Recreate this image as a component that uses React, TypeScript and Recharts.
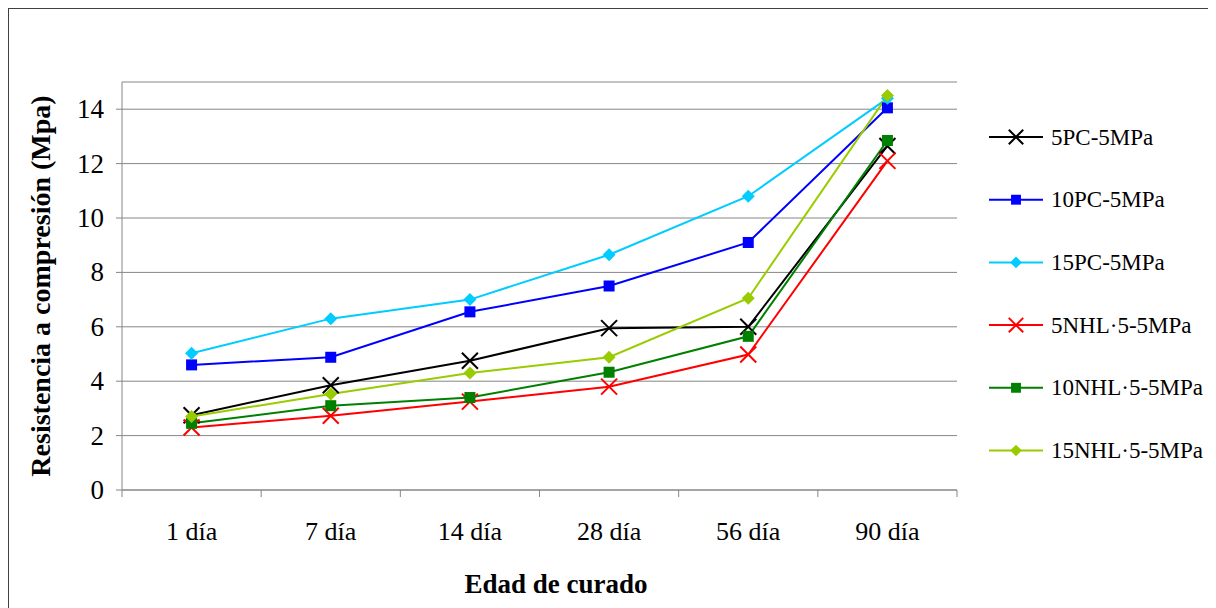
import React from 'react';
import { LineChart, Line, XAxis, YAxis, CartesianGrid, Legend, Label } from 'recharts';

// curing ages (x categories)
const dias = ['1 día', '7 día', '14 día', '28 día', '56 día', '90 día'];

// compressive strength, MPa
const pc5 = [2.75, 3.85, 4.75, 5.95, 6.0, 12.65];
const pc10 = [4.6, 4.88, 6.55, 7.5, 9.1, 14.05];
const pc15 = [5.03, 6.3, 7.0, 8.65, 10.8, 14.4];
const nhl5 = [2.3, 2.73, 3.25, 3.8, 4.98, 12.1];
const nhl10 = [2.45, 3.1, 3.4, 4.33, 5.65, 12.85];
const nhl15 = [2.7, 3.53, 4.3, 4.88, 7.05, 14.5];

const yTicks = [0, 2, 4, 6, 8, 10, 12, 14];

type Marker = 'x' | 'square' | 'diamond';

const series: { key: string; name: string; values: number[]; color: string; marker: Marker }[] = [
	{ key: 'pc5', name: '5PC-5MPa', values: pc5, color: '#000000', marker: 'x' },
	{ key: 'pc10', name: '10PC-5MPa', values: pc10, color: '#0000FF', marker: 'square' },
	{ key: 'pc15', name: '15PC-5MPa', values: pc15, color: '#00CCFF', marker: 'diamond' },
	{ key: 'nhl5', name: '5NHL·5-5MPa', values: nhl5, color: '#FF0000', marker: 'x' },
	{ key: 'nhl10', name: '10NHL·5-5MPa', values: nhl10, color: '#008000', marker: 'square' },
	{ key: 'nhl15', name: '15NHL·5-5MPa', values: nhl15, color: '#99CC00', marker: 'diamond' },
];

// each category sits in the middle of its slot, ticks mark the slot edges
const chartData = dias.map((dia, i) => {
	const row: Record<string, number | string> = { pos: i + 0.5, dia };
	series.forEach((s) => {
		row[s.key] = s.values[i];
	});
	return row;
});

const FONT = '"Liberation Serif", "Times New Roman", serif';
const AXIS = '#868686';
const W = 1207;
const H = 599;
const PLOT_LEFT = 113;
const PLOT_RIGHT = 948;
const PLOT_TOP = 73;
const PLOT_BOTTOM = 481;
const HALF_SLOT = (PLOT_RIGHT - PLOT_LEFT) / dias.length / 2;

const drawMarker = (marker: Marker, color: string, cx: number, cy: number, size = 1) => {
	if (marker === 'x') {
		const r = 8 * size;
		return (
			<g>
				<line x1={cx - r} y1={cy - r} x2={cx + r} y2={cy + r} stroke={color} strokeWidth={2} />
				<line x1={cx - r} y1={cy + r} x2={cx + r} y2={cy - r} stroke={color} strokeWidth={2} />
			</g>
		);
	}
	if (marker === 'square') {
		const r = 5.5 * size;
		return <rect x={cx - r} y={cy - r} width={r * 2} height={r * 2} fill={color} />;
	}
	const r = 6.5 * size;
	return <polygon points={`${cx},${cy - r} ${cx + r},${cy} ${cx},${cy + r} ${cx - r},${cy}`} fill={color} />;
};

const makeDot = (marker: Marker, color: string) => (props: any) => {
	const { cx, cy, index } = props;
	if (cx == null || cy == null) return <g key={`d-${index}`} />;
	return <g key={`d-${index}`}>{drawMarker(marker, color, cx, cy)}</g>;
};

const CategoryTick = (props: any) => {
	const { x, y, payload } = props;
	const label = dias[payload.value];
	if (!label) return <g />;
	return (
		<text x={x + HALF_SLOT} y={y + 32} textAnchor='middle' dominantBaseline='central' fontFamily={FONT} fontSize={26} fill='#000'>
			{label}
		</text>
	);
};

const ValueTick = (props: any) => {
	const { x, y, payload } = props;
	return (
		<text x={x} y={y} textAnchor='end' dominantBaseline='central' fontFamily={FONT} fontSize={27} fill='#000'>
			{payload.value}
		</text>
	);
};

const LegendBox = () => (
	<svg width={230} height={380}>
		{series.map((s, i) => {
			const cy = 31 + i * 62.7;
			return (
				<g key={s.key}>
					<line x1={0} y1={cy} x2={54} y2={cy} stroke={s.color} strokeWidth={2} />
					{drawMarker(s.marker, s.color, 27, cy, 0.9)}
					<text x={62} y={cy} dominantBaseline='central' fontFamily={FONT} fontSize={23} fill='#000'>
						{s.name}
					</text>
				</g>
			);
		})}
	</svg>
);

const YTitle = (props: any) => {
	const { viewBox } = props;
	const cx = 31;
	const cy = viewBox.y + viewBox.height / 2;
	return (
		<text x={cx} y={cy} transform={`rotate(-90 ${cx} ${cy})`} textAnchor='middle' dominantBaseline='central' fontFamily={FONT} fontWeight='bold' fontSize={28} fill='#000'>
			Resistencia a compresión (Mpa)
		</text>
	);
};

const XTitle = () => (
	<text x={547} y={575} textAnchor='middle' dominantBaseline='central' fontFamily={FONT} fontWeight='bold' fontSize={27} fill='#000'>
		Edad de curado
	</text>
);

const App = () => {
	return (
		<div
			style={{
				position: 'relative',
				margin: '-1px 0 0 -1px',
				width: W,
				height: H,
				borderTop: '2px solid #404040',
				borderLeft: '2px solid #404040',
				background: '#fff',
			}}
		>
			<LineChart
				width={W}
				height={H}
				data={chartData}
				margin={{ top: PLOT_TOP, right: W - PLOT_RIGHT, bottom: H - PLOT_BOTTOM - 60, left: 0 }}
			>
				<CartesianGrid vertical={false} stroke={AXIS} strokeWidth={1} />
				<XAxis
					type='number'
					dataKey='pos'
					domain={[0, dias.length]}
					ticks={[0, 1, 2, 3, 4, 5, 6]}
					interval={0}
					height={60}
					tickSize={7}
					stroke={AXIS}
					tick={<CategoryTick />}
				>
					<Label content={<XTitle />} />
				</XAxis>
				<YAxis
					type='number'
					domain={[0, 15]}
					ticks={yTicks}
					interval={0}
					width={PLOT_LEFT}
					tickSize={6}
					tickMargin={12}
					stroke={AXIS}
					tick={<ValueTick />}
				>
					<Label content={<YTitle />} />
				</YAxis>
				<Legend
					layout='vertical'
					align='center'
					verticalAlign='middle'
					content={<LegendBox />}
					wrapperStyle={{ left: 980, top: 97, width: 230, height: 380 }}
				/>
				{series.map((s) => (
					<Line
						key={s.key}
						type='linear'
						dataKey={s.key}
						name={s.name}
						stroke={s.color}
						strokeWidth={2}
						dot={makeDot(s.marker, s.color)}
						activeDot={false}
						isAnimationActive={false}
					/>
				))}
			</LineChart>
		</div>
	);
};

export default App;
